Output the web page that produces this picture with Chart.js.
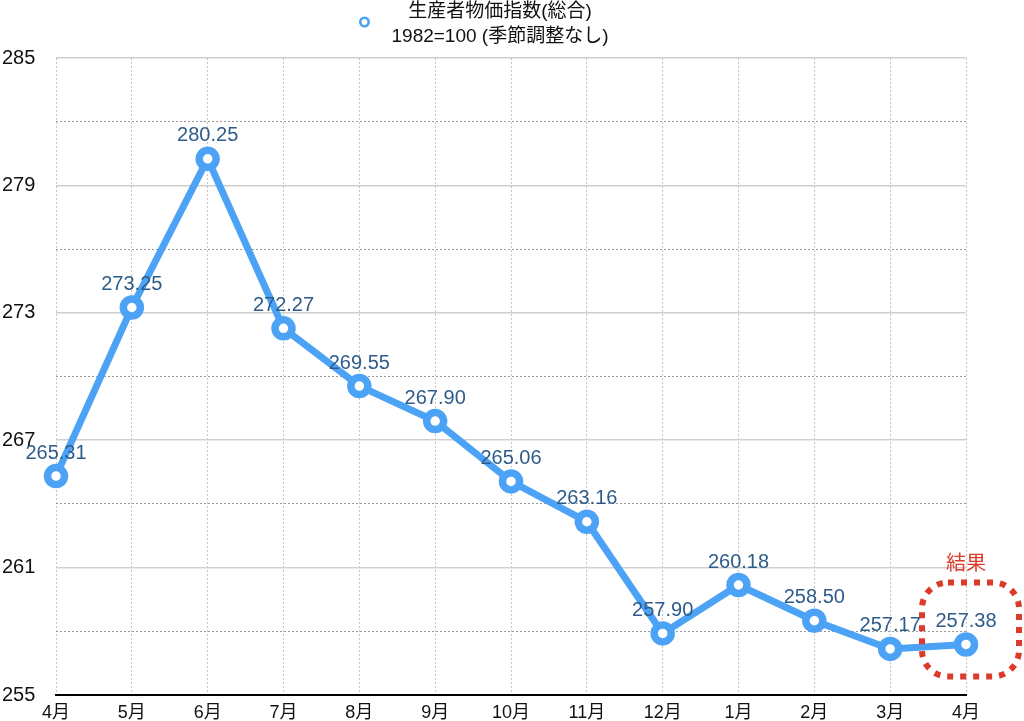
<!DOCTYPE html>
<html lang="ja">
<head>
<meta charset="utf-8">
<title>生産者物価指数(総合)</title>
<script src="https://cdn.jsdelivr.net/npm/chart.js@4/dist/chart.umd.min.js"></script>
<style>
  html, body { margin: 0; padding: 0; background: #fff; }
  #wrap { width: 1024px; height: 721px; }
</style>
</head>
<body>
<div id="wrap"><canvas id="c" width="1024" height="721"></canvas></div>
<script>
// ==============================
// Datos
// ==============================
const meses = ['4月','5月','6月','7月','8月','9月','10月','11月','12月','1月','2月','3月','4月'];
const indice = [265.31, 273.25, 280.25, 272.27, 269.55, 267.90, 265.06, 263.16, 257.90, 260.18, 258.50, 257.17, 257.38];
const tituloSerie = ['生産者物価指数(総合)', '1982=100 (季節調整なし)'];
const yMin = 255, yMax = 285;
const pasoMayor = 6, pasoMenor = 3;
const etiquetaResultado = '結果';

const FONT = '"Liberation Sans", "Noto Sans CJK JP", sans-serif';
const AZUL = '#4ca3f5';
const TEXTO_VALOR = '#2e5c8a';
const ROJO = '#dc3b2c';

// leyenda de dos líneas centrada sobre el área del gráfico
const leyendaPlugin = {
  id: 'leyenda',
  afterDraw(chart) {
    const ctx = chart.ctx;
    const area = chart.chartArea;
    const cx = (area.left + area.right) / 2 - 11;
    ctx.save();
    ctx.font = '19px ' + FONT;
    ctx.fillStyle = '#111';
    ctx.textAlign = 'center';
    ctx.textBaseline = 'middle';
    let ancho = 0;
    tituloSerie.forEach((t, i) => {
      ctx.fillText(t, cx, 12 + i * 25);
      ancho = Math.max(ancho, ctx.measureText(t).width);
    });
    // icono del punto
    const ix = cx - ancho / 2 - 27;
    ctx.beginPath();
    ctx.arc(ix, 22, 4.2, 0, Math.PI * 2);
    ctx.fillStyle = '#fff';
    ctx.fill();
    ctx.lineWidth = 2.6;
    ctx.strokeStyle = AZUL;
    ctx.stroke();
    ctx.restore();
  }
};

// etiquetas de valor sobre cada punto
const valoresPlugin = {
  id: 'valores',
  afterDatasetsDraw(chart) {
    const meta = chart.getDatasetMeta(0);
    const ctx = chart.ctx;
    ctx.save();
    ctx.font = '20px ' + FONT;
    ctx.fillStyle = TEXTO_VALOR;
    ctx.textAlign = 'center';
    ctx.textBaseline = 'middle';
    meta.data.forEach((pt, i) => {
      ctx.fillText(indice[i].toFixed(2), pt.x, pt.y - 23);
    });
    ctx.restore();
  }
};

// recuadro punteado rojo alrededor del último dato
const resultadoPlugin = {
  id: 'resultado',
  afterDraw(chart) {
    const meta = chart.getDatasetMeta(0);
    const pt = meta.data[meta.data.length - 1];
    const ctx = chart.ctx;
    const x0 = pt.x - 44, x1 = pt.x + 53, y0 = pt.y - 62, y1 = pt.y + 32;
    ctx.save();
    ctx.strokeStyle = ROJO;
    ctx.lineWidth = 6;
    ctx.setLineDash([6, 7]);
    ctx.beginPath();
    ctx.roundRect(x0, y0, x1 - x0, y1 - y0, 26);
    ctx.stroke();
    ctx.setLineDash([]);
    ctx.font = '20px ' + FONT;
    ctx.fillStyle = ROJO;
    ctx.textAlign = 'center';
    ctx.textBaseline = 'middle';
    ctx.fillText(etiquetaResultado, pt.x, y0 - 18);
    ctx.restore();
  }
};

new Chart(document.getElementById('c'), {
  type: 'line',
  data: {
    labels: meses,
    datasets: [{
      label: tituloSerie.join(' '),
      data: indice,
      borderColor: AZUL,
      backgroundColor: '#fff',
      borderWidth: 7,
      tension: 0,
      pointRadius: 8.5,
      pointBorderWidth: 7.5,
      pointBackgroundColor: '#fff',
      pointBorderColor: AZUL,
      clip: false
    }]
  },
  options: {
    responsive: false,
    animation: false,
    devicePixelRatio: 1,
    layout: { padding: { left: 2, right: 58, top: 58, bottom: 0 } },
    plugins: {
      tooltip: { enabled: false },
      legend: { display: false }
    },
    scales: {
      x: {
        offset: false,
        grid: { color: '#c4c4c4', lineWidth: 1, drawTicks: false },
        border: { display: true, color: '#000', width: 2, dash: [2, 2] },
        ticks: { color: '#111', font: { size: 18, family: FONT }, padding: 7, maxRotation: 0, autoSkip: false },
        afterFit(s) { s.height = 26; }
      },
      y: {
        min: yMin, max: yMax,
        grid: { color: '#cfcfcf', lineWidth: 1.5, drawTicks: false },
        border: { display: false },
        ticks: {
          stepSize: pasoMayor,
          color: '#111',
          font: { size: 20, family: FONT },
          crossAlign: 'far',
          padding: 0
        },
        afterFit(s) { s.width = 54; }
      },
      yMenor: {
        position: 'left',
        min: yMin, max: yMax,
        grid: {
          color: ctx => ((ctx.tick.value - yMin) % pasoMayor === 0) ? 'rgba(0,0,0,0)' : '#9a9a9a',
          lineWidth: 1,
          drawTicks: false
        },
        border: { display: false, dash: [2, 2] },
        ticks: { display: false, stepSize: pasoMenor },
        afterFit(s) { s.width = 0; }
      }
    }
  },
  plugins: [leyendaPlugin, valoresPlugin, resultadoPlugin]
});
</script>
</body>
</html>
